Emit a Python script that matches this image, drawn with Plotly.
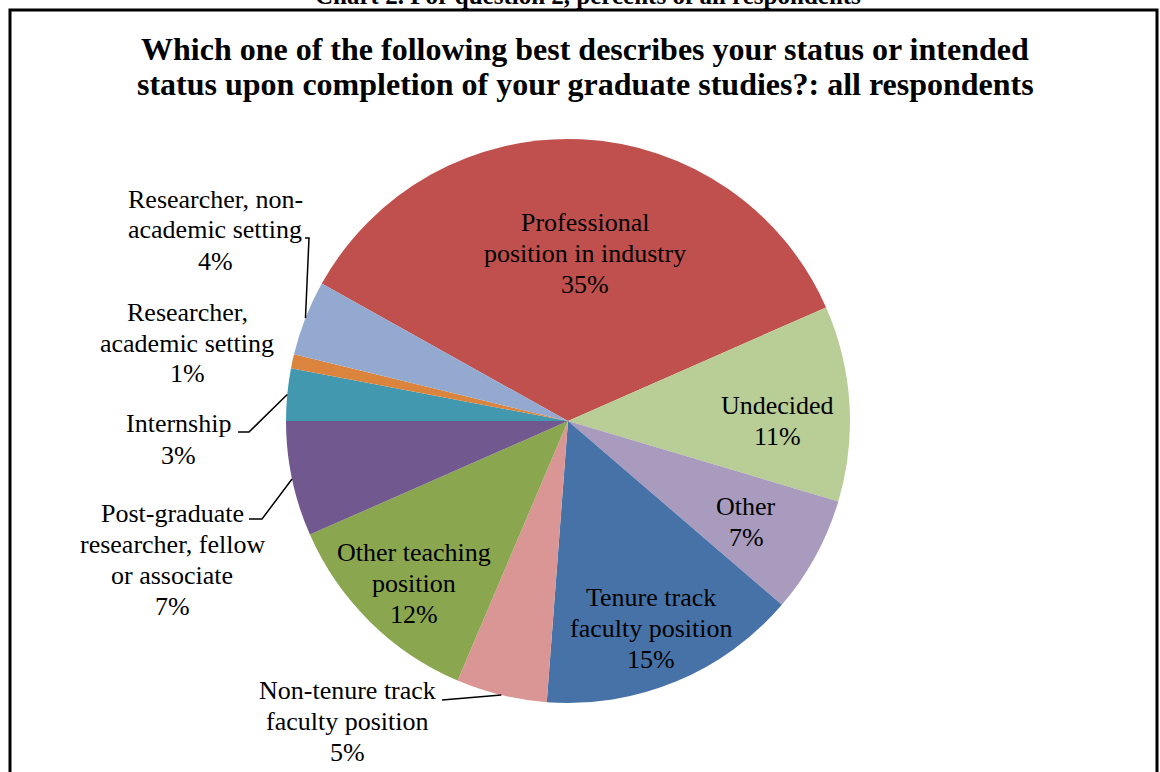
import math
import plotly.graph_objects as go

# data (percent of all respondents)
categories = [
    "Professional position in industry",
    "Undecided",
    "Other",
    "Tenure track faculty position",
    "Non-tenure track faculty position",
    "Other teaching position",
    "Post-graduate researcher, fellow or associate",
    "Internship",
    "Researcher, academic setting",
    "Researcher, non-academic setting",
]
values = [35.3, 11.2, 6.7, 14.9, 5.2, 12.0, 6.6, 3.0, 0.8, 4.3]
colors = ["#C0504D", "#B9CD96", "#A99BBD", "#4672A8", "#D99694",
          "#8AA64F", "#71588F", "#4198AF", "#DB843D", "#93A9CF"]

# how each category name is wrapped in its label
wrapped = {
    "Professional position in industry": ["Professional", "position in industry"],
    "Undecided": ["Undecided"],
    "Other": ["Other"],
    "Tenure track faculty position": ["Tenure track", "faculty position"],
    "Non-tenure track faculty position": ["Non-tenure track", "faculty position"],
    "Other teaching position": ["Other teaching", "position"],
    "Post-graduate researcher, fellow or associate": ["Post-graduate", "researcher, fellow", "or associate"],
    "Internship": ["Internship"],
    "Researcher, academic setting": ["Researcher,", "academic setting"],
    "Researcher, non-academic setting": ["Researcher, non-", "academic setting"],
}

W, H = 1160, 772
CX, CY, R = 568, 421, 282
ROTATION = -60.84  # start of first slice, degrees clockwise from 12 o'clock

# label placement (pixel centre of first line)
label_pos = {
    "Professional position in industry": (585, 222),
    "Undecided": (777, 405),
    "Other": (746, 506),
    "Tenure track faculty position": (651, 597),
    "Non-tenure track faculty position": (347, 690),
    "Other teaching position": (414, 552),
    "Post-graduate researcher, fellow or associate": (172, 513),
    "Internship": (178, 424),
    "Researcher, academic setting": (187, 312),
    "Researcher, non-academic setting": (215, 199),
}
# leader line: points from label side, last point goes to slice midpoint on the rim
leaders = {
    "Researcher, non-academic setting": [(305, 238), (309, 238)],
    "Internship": [(238, 432), (249, 432)],
    "Post-graduate researcher, fellow or associate": [(249, 519), (262, 519)],
    "Non-tenure track faculty position": [(442, 700)],
}

FONT = "Liberation Serif, Times New Roman, serif"


def px(x):
    return x / W


def py(y):
    return 1 - y / H


fig = go.Figure()
fig.add_trace(go.Pie(
    labels=categories,
    values=values,
    marker=dict(colors=colors, line=dict(width=0)),
    sort=False,
    direction="clockwise",
    rotation=ROTATION,
    textinfo="none",
    hoverinfo="label+percent",
    showlegend=False,
    domain=dict(x=[px(CX - R), px(CX + R)], y=[py(CY + R), py(CY - R)]),
))

annotations = []
shapes = []


def add_lines(lines, x, y, size, gap, bold=False):
    for i, line in enumerate(lines):
        txt = f"<b>{line}</b>" if bold else line
        annotations.append(dict(
            x=px(x), y=py(y + i * gap),
            xref="paper", yref="paper", text=txt, showarrow=False,
            xanchor="center", yanchor="middle",
            font=dict(family=FONT, size=size, color="black"),
        ))


# slice labels
total = sum(values)
cum = 0.0
for name, v in zip(categories, values):
    mid = math.radians(ROTATION + (cum + v / 2) / total * 360)
    cum += v
    lines = wrapped[name] + [f"{round(v / total * 100):.0f}%"]
    x, y = label_pos[name]
    add_lines(lines, x, y, 26, 31)
    if name in leaders:
        pts = leaders[name] + [(CX + R * math.sin(mid), CY - R * math.cos(mid))]
        path = "M " + " L ".join(f"{px(a)},{py(b)}" for a, b in pts)
        shapes.append(dict(type="path", path=path, xref="paper", yref="paper",
                           line=dict(color="black", width=1.5)))

# title
add_lines(["Which one of the following best describes your status or intended",
           "status upon completion of your graduate studies?: all respondents"],
          585, 49, 32, 35, bold=True)

# caption above the chart frame, mostly cut off by the page edge
annotations.append(dict(
    x=px(588), y=py(11), xref="paper", yref="paper", showarrow=False,
    text="<b>Chart 2. For question 2, percents of all respondents</b>",
    xanchor="center", yanchor="bottom",
    font=dict(family=FONT, size=25, color="black"),
))

# chart frame
shapes.append(dict(type="rect", xref="paper", yref="paper",
                   x0=px(10), x1=px(1157), y0=py(800), y1=py(10),
                   line=dict(color="black", width=3)))

fig.update_layout(
    width=W, height=H,
    margin=dict(l=0, r=0, t=0, b=0),
    paper_bgcolor="white",
    plot_bgcolor="white",
    annotations=annotations,
    shapes=shapes,
)

# page body has a default 8px margin; drop it so the figure fills the window
fig.write_html("out.html", config={"displayModeBar": False},
               post_script="document.body.style.margin='0px';")
